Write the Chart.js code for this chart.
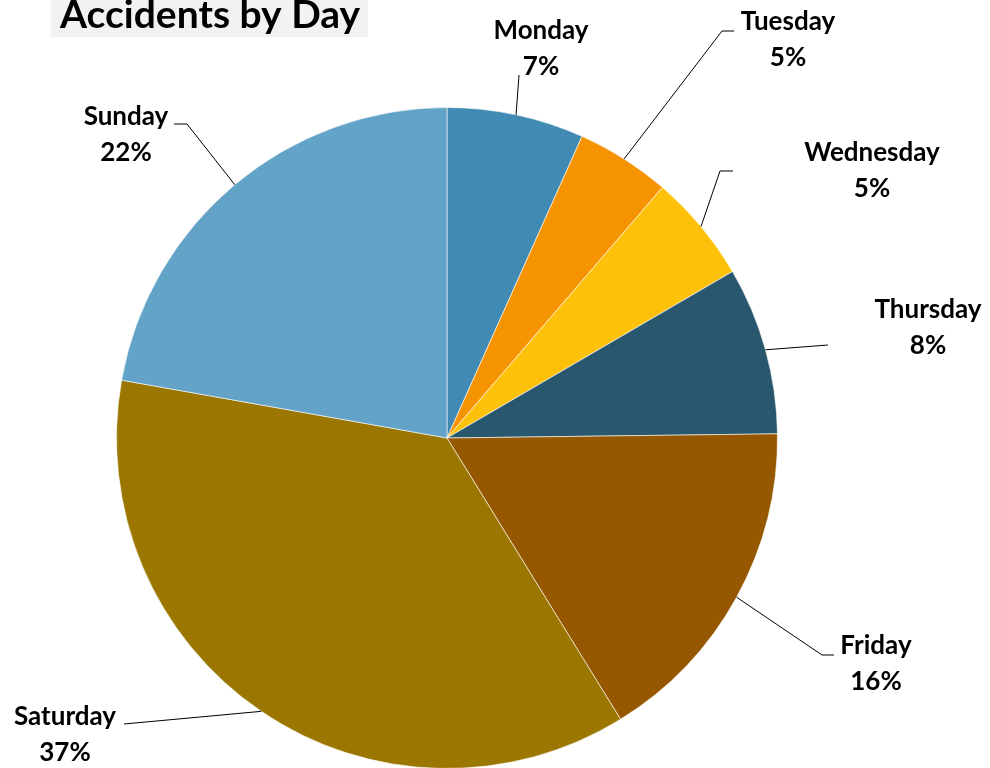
<!DOCTYPE html>
<html>
<head>
<meta charset="utf-8">
<script src="https://cdn.jsdelivr.net/npm/chart.js@4.4.1/dist/chart.umd.min.js"></script>
<style>
  html, body { margin: 0; padding: 0; background: #ffffff; overflow: hidden; }
  #wrap { position: relative; width: 990px; height: 780px; }
</style>
</head>
<body>
<div id="wrap">
  <canvas id="DayChart" width="990" height="780"></canvas>
</div>
<script>
// share of accidents per weekday (percent)
const days = ["Monday", "Tuesday", "Wednesday", "Thursday", "Friday", "Saturday", "Sunday"];
const shares = [6.7, 4.6, 5.3, 8.2, 16.4, 36.6, 22.2];
const sliceColors = ["#418AB3", "#F59300", "#FEC10A", "#29576E", "#955700", "#9B7600", "#63A3C7"];
const chartTitle = "Accidents by Day";

// where each label sits and where its leader line bends (layout only)
const labelSpots = [
  { x: 541, y: 31, elbow: null, end: { x: 519, y: 75 } },
  { x: 788, y: 22, elbow: { x: 722, y: 31 }, end: { x: 734, y: 31 } },
  { x: 872, y: 153, elbow: { x: 720, y: 171 }, end: { x: 733, y: 171 } },
  { x: 928, y: 310, elbow: null, end: { x: 828, y: 345 } },
  { x: 876, y: 646, elbow: { x: 822, y: 655 }, end: { x: 834, y: 655 } },
  { x: 65, y: 717, elbow: null, end: { x: 124, y: 724 } },
  { x: 126, y: 117, elbow: { x: 187, y: 124 }, end: { x: 174, y: 124 } }
];

const labelFont = "bold 26px Lato, 'Open Sans', sans-serif";

const pieLabels = {
  id: "pieLabels",
  afterDraw(chart) {
    const ctx = chart.ctx;
    const meta = chart.getDatasetMeta(0);
    const data = chart.data.datasets[0].data;
    const total = data.reduce((a, b) => a + b, 0);

    ctx.save();

    // title box, cut off by the top edge like the original
    ctx.fillStyle = "#F2F2F2";
    ctx.fillRect(51, 0, 317, 37);
    ctx.fillStyle = "#000000";
    ctx.font = "bold 39px Lato, 'Open Sans', sans-serif";
    ctx.textAlign = "left";
    ctx.textBaseline = "alphabetic";
    ctx.fillText(chartTitle, 60, 28);

    meta.data.forEach((arc, i) => {
      const spot = labelSpots[i];
      const mid = (arc.startAngle + arc.endAngle) / 2;
      const sx = arc.x + Math.cos(mid) * arc.outerRadius;
      const sy = arc.y + Math.sin(mid) * arc.outerRadius;

      // leader line
      ctx.strokeStyle = "#000000";
      ctx.lineWidth = 1;
      ctx.beginPath();
      ctx.moveTo(sx, sy);
      if (spot.elbow) ctx.lineTo(spot.elbow.x, spot.elbow.y);
      ctx.lineTo(spot.end.x, spot.end.y);
      ctx.stroke();

      // label text
      const pct = Math.round(data[i] / total * 100) + "%";
      ctx.fillStyle = "#000000";
      ctx.font = labelFont;
      ctx.textAlign = "center";
      ctx.textBaseline = "middle";
      ctx.fillText(chart.data.labels[i], spot.x, spot.y);
      ctx.fillText(pct, spot.x, spot.y + 36);
    });

    ctx.restore();
  }
};

let dayChart = null;

function drawDayChart() {
  const canvas = document.getElementById("DayChart");

  if (!canvas) {
    console.error("DayChart canvas not found");
    return;
  }

  const ctx = canvas.getContext("2d");

  if (dayChart) dayChart.destroy();

  dayChart = new Chart(ctx, {
    type: "pie",
    data: {
      labels: days,
      datasets: [{
        data: shares,
        backgroundColor: sliceColors,
        borderColor: "rgba(255,255,255,0.6)",
        borderWidth: 1,
        hoverOffset: 0
      }]
    },
    options: {
      responsive: false,
      animation: false,
      events: [],
      layout: {
        padding: { left: 116, right: 212, top: 107, bottom: 11 }
      },
      plugins: {
        legend: { display: false },
        tooltip: { enabled: false },
        title: { display: false }
      }
    },
    plugins: [pieLabels]
  });
}

drawDayChart();
</script>
</body>
</html>
